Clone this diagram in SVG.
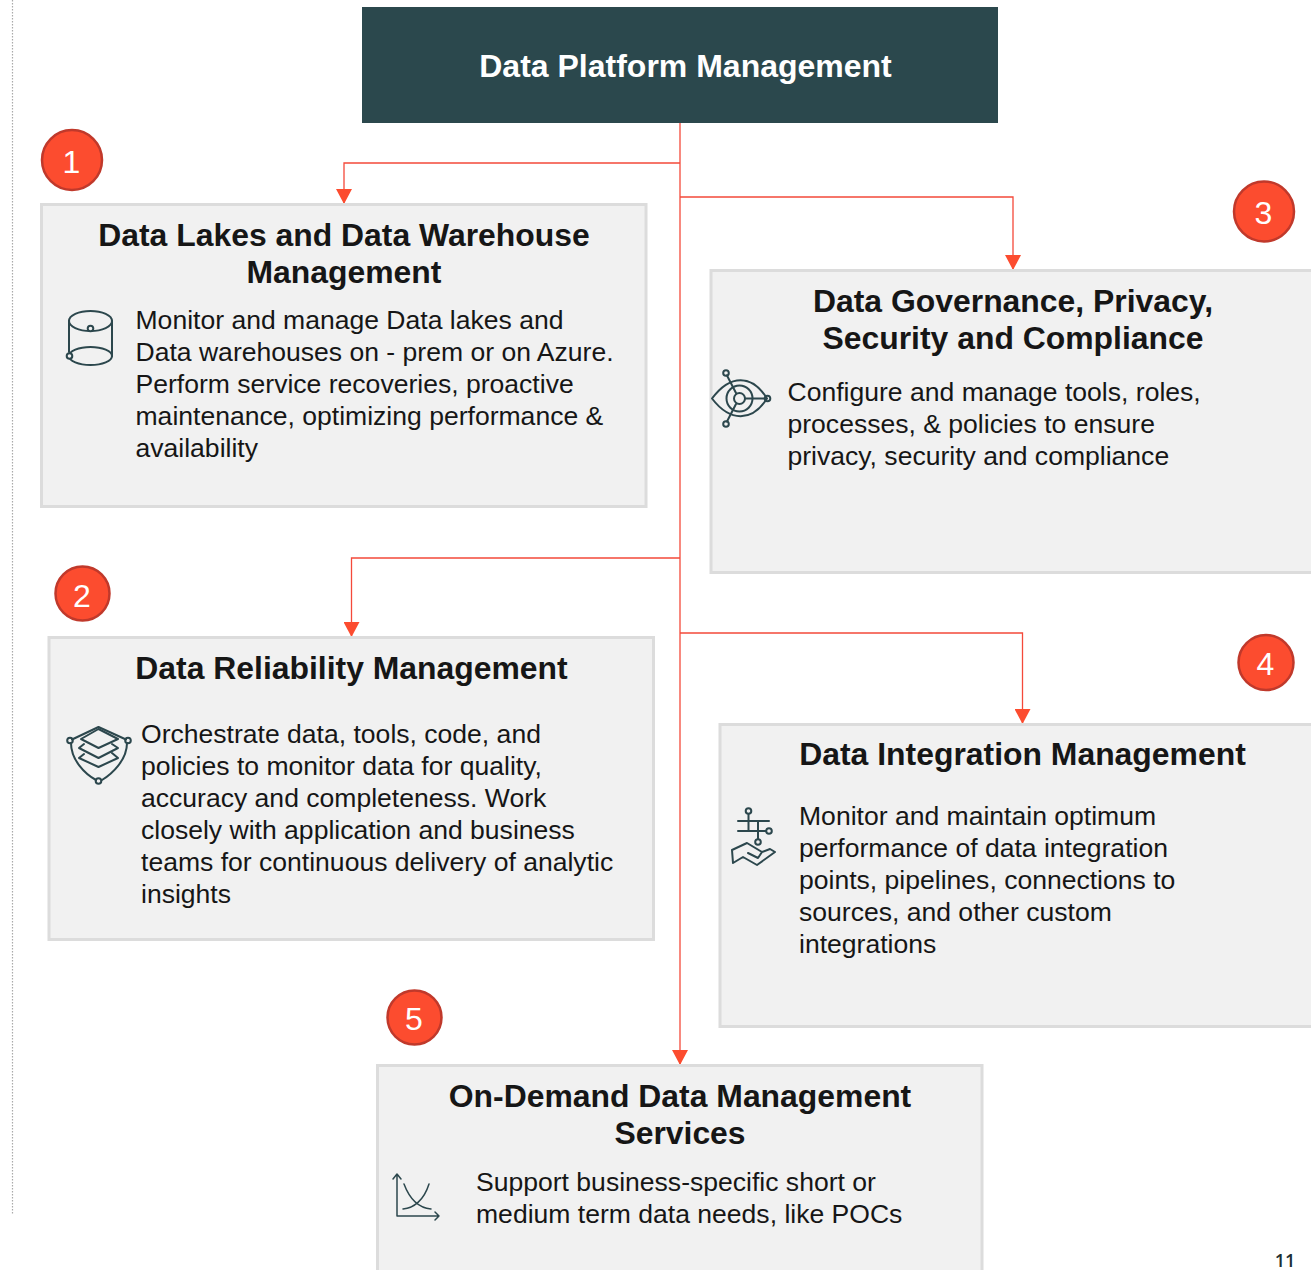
<svg xmlns="http://www.w3.org/2000/svg" width="1311" height="1270" viewBox="0 0 1311 1270">
<style>
text{font-family:"Liberation Sans",Arial,sans-serif}
.box{fill:#f1f1f1;stroke:#dcdcdc;stroke-width:3}
.h{font-size:31.9px;font-weight:700;fill:#161616;text-anchor:middle}
.b{font-size:26.55px;fill:#161616}
.num{font-size:32px;fill:#fff;text-anchor:middle}
.c{fill:#fc4c2f;stroke:#c0392b;stroke-width:2.5}
.ic{fill:none;stroke:#2c474d;stroke-width:2;stroke-linejoin:round;stroke-linecap:round}
.line{fill:none;stroke:#f4493a;stroke-width:1.3}
</style>
<defs><marker id="a" markerUnits="userSpaceOnUse" markerWidth="16" markerHeight="16" refX="15" refY="8" orient="auto"><path d="M0 0L15 8L0 16Z" fill="#fc4c2f"/></marker></defs>
<line x1="12.5" y1="0" x2="12.5" y2="1214" stroke="#aaa" stroke-width="1.2" stroke-dasharray="1.5 1.5"/>
<g id="connectors">
<path class="line" d="M680 123V1065" marker-end="url(#a)"/>
<path class="line" d="M680 163H344V204" marker-end="url(#a)"/>
<path class="line" d="M680 197H1013V270" marker-end="url(#a)"/>
<path class="line" d="M680 558H351.500V637" marker-end="url(#a)"/>
<path class="line" d="M680 633H1022.500V724" marker-end="url(#a)"/>
</g>
<g id="title"><rect x="362" y="7" width="636" height="116" fill="#2b484d"/><text x="685.500" y="77" font-size="32" font-weight="700" fill="#fff" text-anchor="middle">Data Platform Management</text></g>
<g id="node1">
<rect class="box" x="41.500" y="204.500" width="604.500" height="302"/>
<text class="h" x="344" y="246">Data Lakes and Data Warehouse</text><text class="h" x="344" y="283">Management</text>
<g class="b"><text x="135.500" y="329">Monitor and manage Data lakes and</text><text x="135.500" y="361">Data warehouses on - prem or on Azure.</text><text x="135.500" y="393">Perform service recoveries, proactive</text><text x="135.500" y="425">maintenance, optimizing performance &amp;</text><text x="135.500" y="457">availability</text></g>
<g class="ic"><ellipse cx="90.500" cy="321" rx="21.500" ry="10"/><ellipse cx="90.500" cy="356" rx="21.500" ry="9"/><path d="M69 321V352M112 321V356"/><circle cx="90.500" cy="328.500" r="2.800" fill="#f1f1f1"/><circle cx="69.500" cy="356" r="2.800" fill="#f1f1f1"/></g>
</g>
<g id="badge1"><circle class="c" cx="72" cy="160" r="30"/><text class="num" x="71.500" y="173">1</text></g>
<g id="node3">
<rect class="box" x="711" y="270.500" width="604" height="302"/>
<text class="h" x="1013" y="312">Data Governance, Privacy,</text><text class="h" x="1013" y="349">Security and Compliance</text>
<g class="b"><text x="787.500" y="401">Configure and manage tools, roles,</text><text x="787.500" y="433">processes, &amp; policies to ensure</text><text x="787.500" y="465">privacy, security and compliance</text></g>
<g class="ic"><path d="M712 398.500C730 374 752 374 767 398.500C752 422 730 422 712 398.500Z"/><circle cx="739.500" cy="398.500" r="13"/><circle cx="739.500" cy="398.500" r="5.500"/><path d="M745 398.500H765M727 375.500L736 393M736 404L727 421.500"/><circle cx="726" cy="373" r="2.800"/><circle cx="726" cy="424" r="2.800"/><circle cx="767.500" cy="398.500" r="2.800"/></g>
</g>
<g id="badge3"><circle class="c" cx="1264" cy="211.500" r="30"/><text class="num" x="1263.500" y="224">3</text></g>
<g id="node2">
<rect class="box" x="49" y="637.500" width="604.500" height="302"/>
<text class="h" x="351.500" y="679">Data Reliability Management</text>
<g class="b"><text x="141" y="743">Orchestrate data, tools, code, and</text><text x="141" y="775">policies to monitor data for quality,</text><text x="141" y="807">accuracy and completeness. Work</text><text x="141" y="839">closely with application and business</text><text x="141" y="871">teams for continuous delivery of analytic</text><text x="141" y="903">insights</text></g>
<g class="ic"><path d="M72 739.500L98.500 727L126 739.500M71 743C71 760 85 774 96 780M127 743C127 760 112 774 102 780"/><path d="M81 739L98.500 729L118 739L98.500 748Z"/><path d="M84 744L79 748L98.500 758L118 748L112 744"/><path d="M84 754L79 758L98.500 767L118 758L112 753"/><circle cx="70" cy="740.500" r="2.800"/><circle cx="128" cy="740.500" r="2.800"/><circle cx="98.500" cy="781" r="2.800"/></g>
</g>
<g id="badge2"><circle class="c" cx="82.500" cy="593.500" r="27"/><text class="num" x="82" y="607">2</text></g>
<g id="node4">
<rect class="box" x="720" y="724.500" width="604" height="302"/>
<text class="h" x="1022.500" y="765">Data Integration Management</text>
<g class="b"><text x="799" y="825">Monitor and maintain optimum</text><text x="799" y="857">performance of data integration</text><text x="799" y="889">points, pipelines, connections to</text><text x="799" y="921">sources, and other custom</text><text x="799" y="953">integrations</text></g>
<g class="ic"><path d="M738 821H769M738 831H766M748.500 814V831M758 821V839"/><circle cx="748.500" cy="811" r="2.800"/><circle cx="769" cy="831" r="2.800"/><circle cx="758" cy="842" r="2.800"/><path d="M732 850L747 843L762 852L770 849L775 852L757 865L743 857L733 863ZM748 853L758 858L762 852"/></g>
</g>
<g id="badge4"><circle class="c" cx="1266" cy="662.500" r="27.500"/><text class="num" x="1265.500" y="675">4</text></g>
<g id="node5">
<rect class="box" x="377.500" y="1065.500" width="604.500" height="220"/>
<text class="h" x="680" y="1107">On-Demand Data Management</text><text class="h" x="680" y="1144">Services</text>
<g class="b"><text x="476" y="1191">Support business-specific short or</text><text x="476" y="1223">medium term data needs, like POCs</text></g>
<g class="ic" style="stroke-width:1.5"><path d="M397 1175V1216H439M393 1179L397 1174L401 1179M435 1212L439 1216L435 1220M404 1184C410 1200 420 1208 431 1209M429 1184C424 1200 414 1208 403 1209"/></g>
</g>
<g id="badge5"><circle class="c" cx="414.500" cy="1017.500" r="27"/><text class="num" x="414" y="1030">5</text></g>
<text x="1285" y="1267" font-size="18" font-weight="600" fill="#1c2f33" text-anchor="middle" style="font-family:'Open Sans',sans-serif">11</text>
</svg>
